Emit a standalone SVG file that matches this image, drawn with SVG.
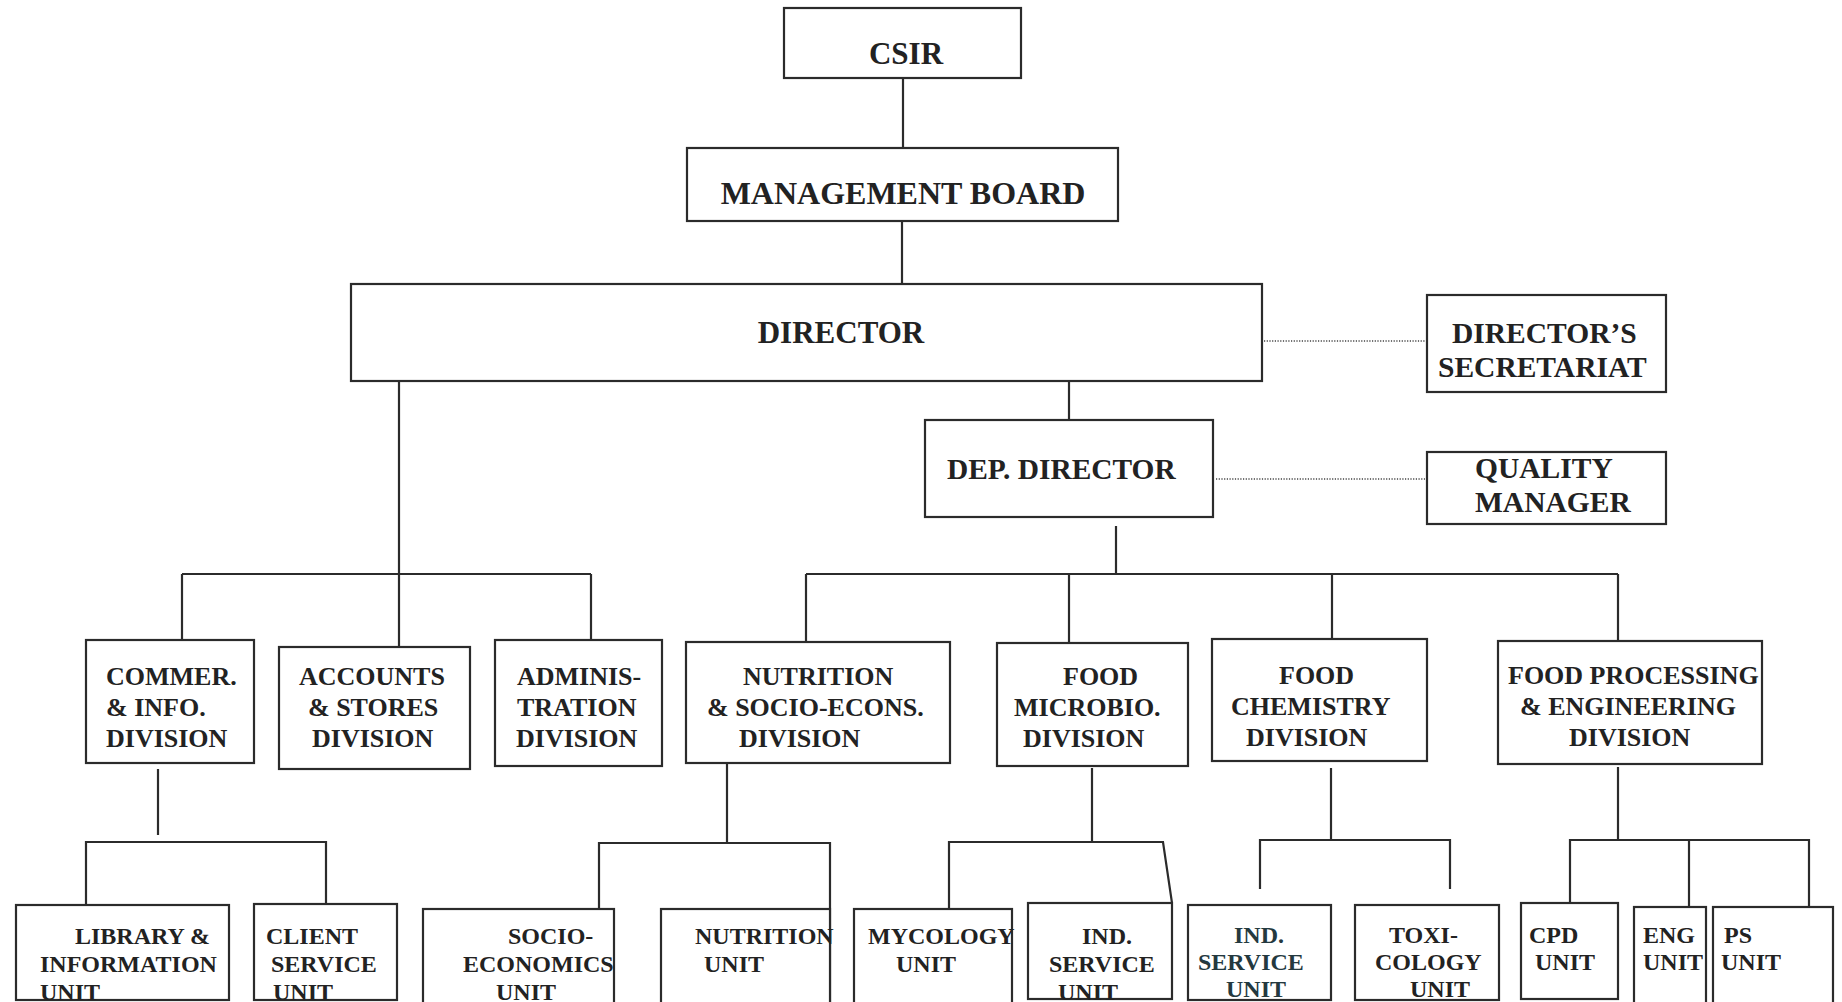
<svg xmlns="http://www.w3.org/2000/svg" width="1842" height="1002" viewBox="0 0 1842 1002">
<style>
  .box{fill:#fff;stroke:#2b2b2b;stroke-width:2.2}
  .ln{fill:none;stroke:#2b2b2b;stroke-width:2.2}
  .dot{fill:none;stroke:#444;stroke-width:1.7;stroke-dasharray:1.2 1.5}
  text{font-family:"Liberation Serif","Times New Roman",serif;font-weight:bold;fill:#222}
  .t1{font-size:31px}
  .t2{font-size:29.5px}
  .dv{font-size:26px}
  .un{font-size:24px}
  .m{text-anchor:middle}
</style>
<rect width="1842" height="1002" fill="#fff"/>

<g id="connectors">
  <line class="ln" x1="903" y1="78" x2="903" y2="148"/>
  <line class="ln" x1="902" y1="221" x2="902" y2="288"/>
  <line class="dot" x1="1264" y1="341" x2="1425" y2="341"/>
  <line class="ln" x1="1069" y1="377" x2="1069" y2="426"/>
  <line class="dot" x1="1216" y1="479" x2="1425" y2="479"/>
  <line class="ln" x1="1116" y1="526" x2="1116" y2="574"/>
  <line class="ln" x1="806" y1="574" x2="1618" y2="574"/>
  <line class="ln" x1="806" y1="574" x2="806" y2="646"/>
  <line class="ln" x1="1069" y1="574" x2="1069" y2="647"/>
  <line class="ln" x1="1332" y1="574" x2="1332" y2="643"/>
  <line class="ln" x1="1618" y1="574" x2="1618" y2="645"/>
  <line class="ln" x1="399" y1="378" x2="399" y2="647"/>
  <line class="ln" x1="182" y1="574" x2="591" y2="574"/>
  <line class="ln" x1="182" y1="574" x2="182" y2="646"/>
  <line class="ln" x1="591" y1="574" x2="591" y2="640"/>
  <line class="ln" x1="158" y1="769" x2="158" y2="835"/>
  <polyline class="ln" points="86,905 86,842 326,842 326,904"/>
  <line class="ln" x1="727" y1="754" x2="727" y2="843"/>
  <polyline class="ln" points="599,916 599,843 830,843 830,1010"/>
  <line class="ln" x1="1092" y1="768" x2="1092" y2="842"/>
  <polyline class="ln" points="949,909 949,842 1163,842 1172,903"/>
  <line class="ln" x1="1331" y1="768" x2="1331" y2="840"/>
  <polyline class="ln" points="1260,889 1260,840 1450,840 1450,889"/>
  <line class="ln" x1="1618" y1="767" x2="1618" y2="840"/>
  <polyline class="ln" points="1570,913 1570,840 1809,840 1809,913"/>
  <line class="ln" x1="1689" y1="840" x2="1689" y2="913"/>
</g>

<g id="csir"><rect class="box" x="784" y="8" width="237" height="70"/><text class="t1 m" x="906" y="64">CSIR</text></g>
<g id="board"><rect class="box" x="687" y="148" width="431" height="73"/><text class="m" style="font-size:32px" x="903" y="204">MANAGEMENT BOARD</text></g>
<g id="director"><rect class="box" x="351" y="284" width="911" height="97"/><text class="t1 m" x="841" y="343">DIRECTOR</text></g>
<g id="secretariat"><rect class="box" x="1427" y="295" width="239" height="97"/><text class="t2" x="1452" y="343">DIRECTOR’S</text><text class="t2" x="1438" y="377">SECRETARIAT</text></g>
<g id="depdirector"><rect class="box" x="925" y="420" width="288" height="97"/><text style="font-size:29.4px" x="947" y="479">DEP. DIRECTOR</text></g>
<g id="quality"><rect class="box" x="1427" y="452" width="239" height="72"/><text class="t2" x="1475" y="478">QUALITY</text><text class="t2" x="1475" y="512">MANAGER</text></g>

<g id="commer"><rect class="box" x="86" y="640" width="168" height="123"/>
  <text class="dv" x="106" y="685">COMMER.</text><text class="dv" x="106" y="716">&amp; INFO.</text><text class="dv" x="106" y="747">DIVISION</text></g>
<g id="accounts"><rect class="box" x="279" y="647" width="191" height="122"/>
  <text class="dv" x="299" y="685">ACCOUNTS</text><text class="dv" x="308" y="716">&amp; STORES</text><text class="dv" x="312" y="747">DIVISION</text></g>
<g id="admin"><rect class="box" x="495" y="640" width="167" height="126"/>
  <text class="dv" x="517" y="685">ADMINIS-</text><text class="dv" x="517" y="716">TRATION</text><text class="dv" x="516" y="747">DIVISION</text></g>
<g id="nutrition"><rect class="box" x="686" y="642" width="264" height="121"/>
  <text class="dv" x="743" y="685">NUTRITION</text><text class="dv" x="707" y="716">&amp; SOCIO-ECONS.</text><text class="dv" x="739" y="747">DIVISION</text></g>
<g id="microbio"><rect class="box" x="997" y="643" width="191" height="123"/>
  <text class="dv" x="1063" y="685">FOOD</text><text class="dv" x="1014" y="716">MICROBIO.</text><text class="dv" x="1023" y="747">DIVISION</text></g>
<g id="foodchem"><rect class="box" x="1212" y="639" width="215" height="122"/>
  <text class="dv" x="1279" y="684">FOOD</text><text class="dv" x="1231" y="715">CHEMISTRY</text><text class="dv" x="1246" y="746">DIVISION</text></g>
<g id="foodproc"><rect class="box" x="1498" y="641" width="264" height="123"/>
  <text class="dv" x="1508" y="684">FOOD PROCESSING</text><text class="dv" x="1520" y="715">&amp; ENGINEERING</text><text class="dv" x="1569" y="746">DIVISION</text></g>

<g id="library"><rect class="box" x="16" y="905" width="213" height="95"/>
  <text class="un" x="75" y="944">LIBRARY &amp;</text><text class="un" x="40" y="972">INFORMATION</text><text class="un" x="40" y="1000">UNIT</text></g>
<g id="client"><rect class="box" x="254" y="904" width="143" height="96"/>
  <text class="un" x="266" y="944">CLIENT</text><text class="un" x="271" y="972">SERVICE</text><text class="un" x="273" y="1000">UNIT</text></g>
<g id="socio"><rect class="box" x="423" y="909" width="191" height="110"/>
  <text class="un" x="508" y="944">SOCIO-</text><text class="un" x="463" y="972">ECONOMICS</text><text class="un" x="496" y="1000">UNIT</text></g>
<g id="nutunit"><rect class="box" x="661" y="909" width="169" height="110"/>
  <text class="un" x="695" y="944">NUTRITION</text><text class="un" x="704" y="972">UNIT</text></g>
<g id="mycology"><rect class="box" x="854" y="909" width="158" height="110"/>
  <text class="un" x="868" y="944">MYCOLOGY</text><text class="un" x="896" y="972">UNIT</text></g>
<g id="indsvc1"><rect class="box" x="1028" y="903" width="144" height="96"/>
  <text class="un" x="1082" y="944">IND.</text><text class="un" x="1049" y="972">SERVICE</text><text class="un" x="1058" y="1000">UNIT</text></g>
<g id="indsvc2"><rect class="box" x="1188" y="905" width="143" height="95"/>
  <text class="un" style="fill:#24393f" x="1234" y="943">IND.</text><text class="un" style="fill:#24393f" x="1198" y="970">SERVICE</text><text class="un" style="fill:#24393f" x="1226" y="997">UNIT</text></g>
<g id="toxi"><rect class="box" x="1355" y="905" width="144" height="95"/>
  <text class="un" x="1389" y="943">TOXI-</text><text class="un" x="1375" y="970">COLOGY</text><text class="un" x="1410" y="997">UNIT</text></g>
<g id="cpd"><rect class="box" x="1521" y="903" width="97" height="96"/>
  <text class="un" x="1529" y="943">CPD</text><text class="un" x="1535" y="970">UNIT</text></g>
<g id="eng"><rect class="box" x="1634" y="907" width="72" height="110"/>
  <text class="un" x="1643" y="943">ENG</text><text class="un" x="1643" y="970">UNIT</text></g>
<g id="ps"><rect class="box" x="1713" y="907" width="120" height="110"/>
  <text class="un" x="1724" y="943">PS</text><text class="un" x="1721" y="970">UNIT</text></g>
</svg>
